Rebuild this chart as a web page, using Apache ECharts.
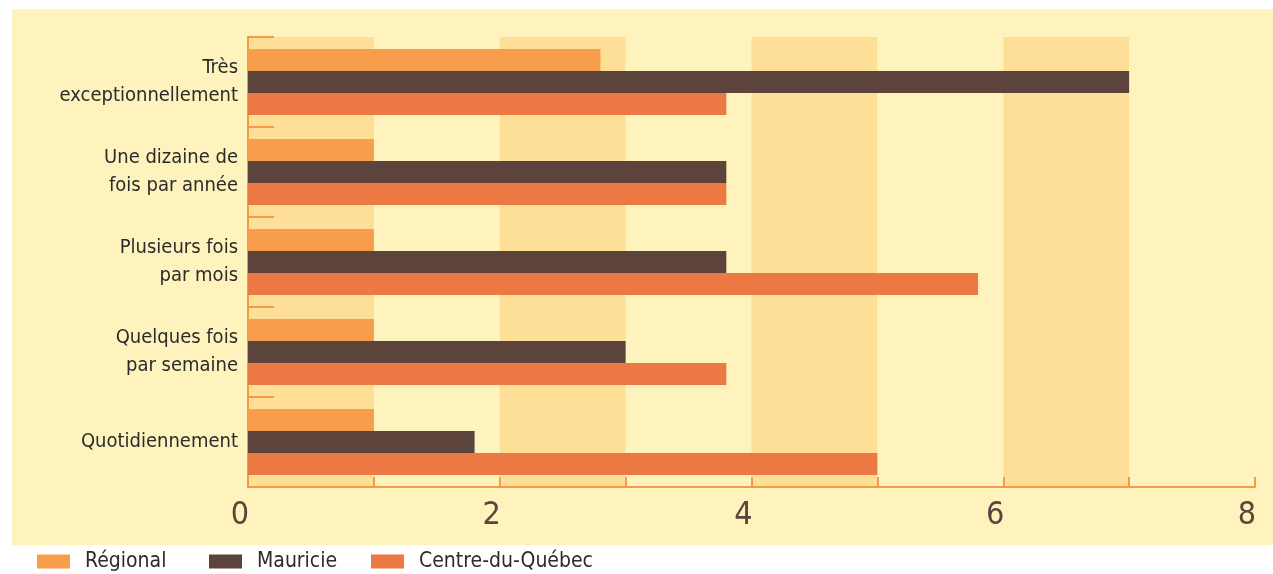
<!DOCTYPE html>
<html><head><meta charset="utf-8">
<script src="https://cdn.jsdelivr.net/npm/echarts@6/dist/echarts.min.js"></script>
<style>html,body{margin:0;padding:0;background:#fff}#c{width:1273px;height:574px}</style>
</head><body><div id="c"></div>
<script>
const categories = ["Très\nexceptionnellement", "Une dizaine de\nfois par année", "Plusieurs fois\npar mois", "Quelques fois\npar semaine", "Quotidiennement"];
const regional = [2.8, 1, 1, 1, 1];
const mauricie = [7, 3.8, 3.8, 3, 1.8];
const centre = [3.8, 3.8, 5.8, 3.8, 5];
const seriesNames = ["Régional", "Mauricie", "Centre-du-Québec"];
const xTicks = [0, 2, 4, 6, 8];

const FONT = '"Liberation Sans Narrow","DejaVu Sans Condensed",sans-serif';
const AX = '#F79A45';
const legendBase = {
  bottom: -3, itemWidth: 33, itemHeight: 14, icon: 'rect',
  textStyle: {fontFamily: FONT, fontSize: 21, color: '#2b2b2b', padding: [0, 0, 0, 10]}
};
const chart = echarts.init(document.getElementById('c'), null, {renderer: 'canvas'});
chart.setOption({
  backgroundColor: '#ffffff',
  animation: false,
  graphic: [{type: 'rect', z: -10, silent: true, shape: {x: 12, y: 9, width: 1261, height: 536}, style: {fill: '#FEF2BD'}}],
  grid: {left: 248, right: 18, top: 37, bottom: 87},
  legend: [
    Object.assign({left: 32, data: [seriesNames[0]]}, legendBase),
    Object.assign({left: 204, data: [seriesNames[1]]}, legendBase),
    Object.assign({left: 366, data: [seriesNames[2]]}, legendBase)
  ],
  xAxis: {
    type: 'value', min: 0, max: 8, interval: 1,
    axisLine: {show: true, lineStyle: {color: AX, width: 2}},
    axisTick: {show: true, inside: true, length: 10, lineStyle: {color: AX, width: 2}},
    axisLabel: {fontFamily: FONT, fontSize: 32, color: '#5C443D', margin: 13, padding: [0, 16, 0, 0],
      formatter: v => xTicks.includes(v) ? String(v) : ''},
    splitLine: {show: false},
    splitArea: {show: true, areaStyle: {color: ['#FEDF97', '#FEF2BD']}}
  },
  yAxis: {
    type: 'category', inverse: true, data: categories,
    axisLine: {show: true, lineStyle: {color: AX, width: 2}},
    axisTick: {show: true, inside: true, length: 26, lineStyle: {color: AX, width: 2}},
    axisLabel: {fontFamily: FONT, fontSize: 20, color: '#2b2b2b', lineHeight: 28, margin: 10, align: 'right'}
  },
  series: [
    {name: seriesNames[0], type: 'bar', data: regional, itemStyle: {color: '#F79D4B'}, barGap: '0%', barCategoryGap: '26.7%'},
    {name: seriesNames[1], type: 'bar', data: mauricie, itemStyle: {color: '#5C443D'}, barGap: '0%', barCategoryGap: '26.7%'},
    {name: seriesNames[2], type: 'bar', data: centre, itemStyle: {color: '#EC7843'}, barGap: '0%', barCategoryGap: '26.7%'}
  ]
});
</script></body></html>
